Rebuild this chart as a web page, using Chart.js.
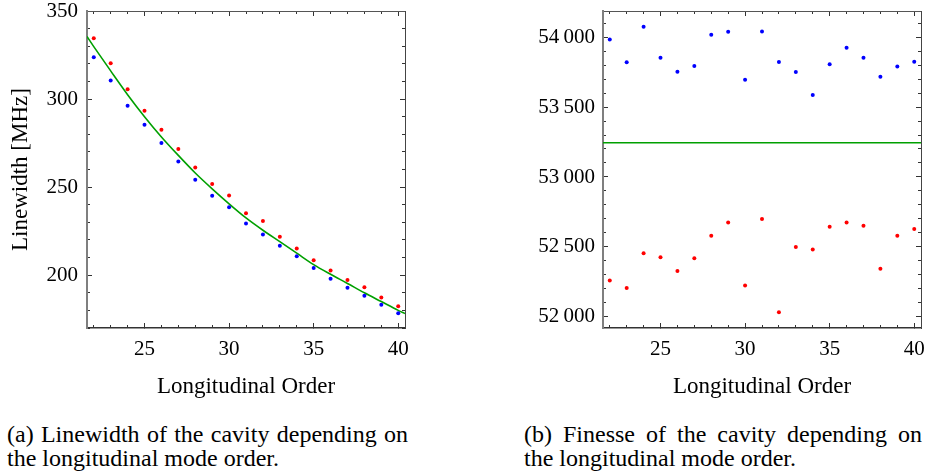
<!DOCTYPE html>
<html>
<head>
<meta charset="utf-8">
<script src="https://cdn.jsdelivr.net/npm/chart.js@4.4.1/dist/chart.umd.min.js"></script>
<style>
  html, body { margin: 0; padding: 0; background: #fff; }
  body { width: 928px; height: 475px; position: relative; overflow: hidden; font-family: 'Liberation Serif', serif; color: #000; }
  canvas { position: absolute; top: 0; }
  #leftChart { left: 0; }
  #rightChart { left: 464px; }
  .caption { position: absolute; top: 422px; font-size: 24px; line-height: 24px; }
  .caption .first { text-align: justify; text-align-last: justify; white-space: nowrap; }
  #capA { left: 7px; width: 401px; }
  #capB { left: 524px; width: 398px; }
</style>
</head>
<body>
<canvas id="leftChart" width="464" height="405"></canvas>
<canvas id="rightChart" width="464" height="405"></canvas>
<div class="caption" id="capA"><div class="first">(a) Linewidth of the cavity depending on</div><div>the longitudinal mode order.</div></div>
<div class="caption" id="capB"><div class="first">(b) Finesse of the cavity depending on</div><div>the longitudinal mode order.</div></div>
<script>
// Longitudinal mode orders
const orders = [22, 23, 24, 25, 26, 27, 28, 29, 30, 31, 32, 33, 34, 35, 36, 37, 38, 39, 40];
const orderRange = [21.6, 40.4];
const xTicks = [25, 30, 35, 40];

// (a) Linewidth [MHz]
const linewidthRed = [334.5, 320.3, 305.5, 293.4, 282.6, 271.6, 261.2, 251.7, 245.3, 235.2, 230.7, 221.8, 215.2, 208.5, 202.7, 197.2, 193.2, 187.3, 182.4];
const linewidthBlue = [323.7, 310.6, 296.2, 285.4, 275.0, 264.6, 254.2, 245.1, 238.5, 229.4, 223.1, 216.7, 210.8, 204.0, 197.9, 192.8, 188.3, 183.2, 178.4];
const fitOrders = [21.6, 22, 23, 24, 25, 26, 27, 28, 29, 30, 31, 32, 33, 34, 35, 36, 37, 38, 39, 40, 40.4];
const fitLinewidth = [335.5, 329.8, 316, 302.5, 290, 278.5, 268, 258, 249, 240.5, 232.5, 225.5, 219, 212.5, 206, 200.5, 195.3, 190, 185, 180, 178.2];
const linewidthRange = [170, 350];
const linewidthTicks = [200, 250, 300, 350];

// (b) Finesse
const finesseBlue = [53983, 53819, 54074, 53852, 53752, 53793, 54017, 54038, 53695, 54040, 53821, 53750, 53586, 53805, 53924, 53852, 53717, 53790, 53824];
const finesseRed = [52260, 52207, 52455, 52426, 52329, 52419, 52581, 52674, 52224, 52700, 52033, 52500, 52481, 52645, 52674, 52652, 52345, 52581, 52629];
const finesseMean = 53245;
const finesseRange = [51921, 54186];
const finesseTicks = [52000, 52500, 53000, 53500, 54000];

const serif = "'Liberation Serif', 'Times New Roman', serif";
const tickFont = { family: serif, size: 21 };
const titleFont = { family: serif, size: 23 };

// tick positions every `step` inside [min, max] (frame decoration only)
function stepValues(min, max, step) {
  const out = [];
  for (let v = Math.ceil(min / step) * step; v <= max + 1e-9; v += step) out.push(v);
  return out;
}

// one axis of the box frame; ticks point inwards
function frameAxis(c) {
  return {
    type: 'linear',
    axis: c.axis,
    position: c.position,
    min: c.min,
    max: c.max,
    weight: c.weight || 0,
    ticks: {
      display: !!c.labels,
      font: tickFont,
      color: '#000',
      padding: c.pad || 0,
      autoSkip: false,
      maxRotation: 0,
      callback: c.labels || (() => '')
    },
    afterBuildTicks: (s) => { s.ticks = c.values.map(v => ({ value: v })); },
    afterFit: (s) => {
      if (s.isHorizontal()) s.height = c.size || 0;
      else s.width = c.size || 0;
      // labels may overhang the plot box, don't let them shrink it
      s.paddingTop = s.paddingBottom = s.paddingLeft = s.paddingRight = 0;
    },
    grid: {
      drawOnChartArea: false,
      drawTicks: true,
      tickLength: -c.len,
      tickColor: '#333',
      tickWidth: 1
    },
    border: c.border ? { display: true, color: c.border, width: c.borderWidth || 1 } : { display: false },
    title: c.title || { display: false }
  };
}

function frameScales(o) {
  const [xMin, xMax] = orderRange;
  const [yMin, yMax] = o.yRange;
  const xMinorVals = stepValues(xMin, xMax, 1);
  const yMinorVals = stepValues(yMin, yMax, o.yMinor);
  return {
    x: frameAxis({ axis: 'x', position: 'bottom', min: xMin, max: xMax, values: xTicks, len: 5, size: 77, pad: 14, weight: 1,
      labels: v => String(v), border: '#333', borderWidth: 1.5,
      title: { display: true, text: 'Longitudinal Order', font: titleFont, color: '#000', padding: { top: 0, bottom: 4 } } }),
    xMinor: frameAxis({ axis: 'x', position: 'bottom', min: xMin, max: xMax, values: xMinorVals, len: 3 }),
    xTop: frameAxis({ axis: 'x', position: 'top', min: xMin, max: xMax, values: xTicks, len: 5, border: '#555' }),
    xTopMinor: frameAxis({ axis: 'x', position: 'top', min: xMin, max: xMax, values: xMinorVals, len: 3 }),
    y: frameAxis({ axis: 'y', position: 'left', min: yMin, max: yMax, values: o.yTicks, len: 5, size: o.ySize, pad: o.yPad, weight: 1,
      labels: o.yLabel, border: '#7f7f7f', borderWidth: 2, title: o.yTitle }),
    yMinor: frameAxis({ axis: 'y', position: 'left', min: yMin, max: yMax, values: yMinorVals, len: 3 }),
    yRight: frameAxis({ axis: 'y', position: 'right', min: yMin, max: yMax, values: o.yTicks, len: 5, border: '#444' }),
    yRightMinor: frameAxis({ axis: 'y', position: 'right', min: yMin, max: yMax, values: yMinorVals, len: 3 })
  };
}

function pointSet(xs, ys, color) {
  return {
    data: xs.map((x, i) => ({ x: x, y: ys[i] })),
    backgroundColor: color,
    borderWidth: 0,
    pointRadius: 2,
    showLine: false,
    order: 1
  };
}

function fitSet(xs, ys) {
  return {
    data: xs.map((x, i) => ({ x: x, y: ys[i] })),
    borderColor: '#00a000',
    borderWidth: 1.6,
    pointRadius: 0,
    showLine: true,
    cubicInterpolationMode: 'monotone',
    order: 2
  };
}

const commonOptions = {
  responsive: false,
  animation: false,
  devicePixelRatio: 1,
  plugins: { legend: { display: false }, tooltip: { enabled: false } },
  events: []
};

function withThinSpace(v) {
  const s = String(Math.round(v));
  return s.length > 3 ? s.slice(0, s.length - 3) + '\u2009' + s.slice(-3) : s;
}

// (a) linewidth chart
new Chart(document.getElementById('leftChart'), {
  type: 'scatter',
  data: {
    datasets: [
      pointSet(orders, linewidthRed, '#ff0000'),
      pointSet(orders, linewidthBlue, '#0000ff'),
      fitSet(fitOrders, fitLinewidth)
    ]
  },
  options: {
    ...commonOptions,
    layout: { padding: { top: 11, right: 59, left: 0, bottom: 0 } },
    scales: frameScales({
      yRange: linewidthRange, yTicks: linewidthTicks, yMinor: 10, ySize: 87, yPad: 14,
      yLabel: v => String(v),
      yTitle: { display: true, text: 'Linewidth [MHz]', font: titleFont, color: '#000', padding: { top: 7, bottom: 0 } }
    })
  }
});

// (b) finesse chart
new Chart(document.getElementById('rightChart'), {
  type: 'scatter',
  data: {
    datasets: [
      pointSet(orders, finesseBlue, '#0000ff'),
      pointSet(orders, finesseRed, '#ff0000'),
      fitSet(orderRange, orderRange.map(() => finesseMean))
    ]
  },
  options: {
    ...commonOptions,
    layout: { padding: { top: 11, right: 7, left: 0, bottom: 0 } },
    scales: frameScales({
      yRange: finesseRange, yTicks: finesseTicks, yMinor: 100, ySize: 139, yPad: 13,
      yLabel: v => withThinSpace(v)
    })
  }
});
</script>
</body>
</html>
